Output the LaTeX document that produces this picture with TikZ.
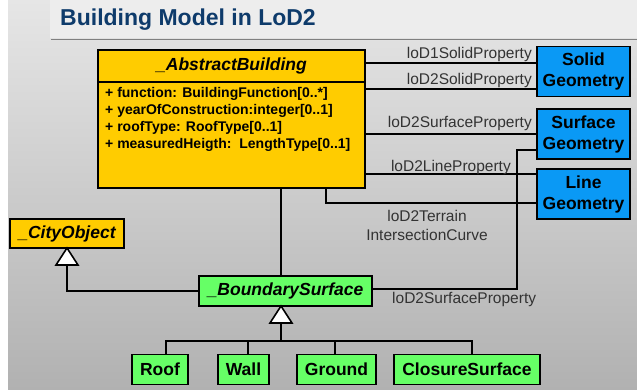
\documentclass[tikz,border=0pt]{standalone}
\usepackage{fontspec}
\setmainfont{Liberation Sans}
\usetikzlibrary{arrows.meta,positioning,calc}
\definecolor{bgtop}{HTML}{E6E6E6}
\definecolor{bgbot}{HTML}{B1B1B1}
\definecolor{panel}{HTML}{EDEDED}
\definecolor{titleblue}{HTML}{0E3B6B}
\definecolor{abstr}{HTML}{FFCC00}
\definecolor{geom}{HTML}{0A99F5}
\definecolor{surf}{HTML}{66FF66}
\definecolor{lbltext}{HTML}{333333}
\tikzset{
  cls/.style={draw=black,line width=1.8pt,outer sep=0pt,inner sep=3pt,align=center,
    font=\fontsize{17.5}{21}\selectfont\bfseries},
  abscls/.style={cls,fill=abstr,font=\fontsize{17.5}{21}\selectfont\bfseries\itshape},
  geocls/.style={cls,fill=geom,minimum width=93pt,minimum height=50pt},
  surfcls/.style={cls,fill=surf,minimum height=30pt},
  assoc/.style={draw=black,line width=1.5pt},
  gentri/.style={draw=black,fill=white,line width=1.6pt,line join=miter},
  lbl/.style={inner sep=0pt,text=lbltext,font=\fontsize{15.5}{19}\selectfont,align=center},
  attrtext/.style={inner sep=0pt,align=left,font=\fontsize{14}{17}\selectfont\bfseries}
}

\begin{document}
\begin{tikzpicture}[x=1pt,y=-1pt]
\useasboundingbox (0,0) rectangle (637,390);
\fill[white] (0,0) rectangle (637,390);
\shade[top color=bgtop,bottom color=bgbot] (8,0) rectangle (637,390);
\fill[panel] (50,0) rectangle (637,38);
\draw[gray,line width=1pt] (51,40) -- (637,40);
\node[anchor=base west,inner sep=0pt,text=titleblue,font=\fontsize{23}{27}\selectfont\bfseries]
  (title) at (60,26) {Building Model in LoD2};

% classes
\node[abscls,minimum width=267pt,minimum height=32pt] (abHead) at (231.5,66) {\_AbstractBuilding};
\node[abscls,minimum width=267pt,minimum height=106pt,below=0pt of abHead] (abBody) {};
\node[attrtext,anchor=north west] (abList) at (105,87.5)
  {+ function: BuildingFunction[0..*]\\
   + yearOfConstruction:integer[0..1]\\
   + roofType: RoofType[0..1]\\
   + measuredHeigth:\ \ LengthType[0..1]};
\node[geocls] (solid) at (583.5,71.5) {Solid\\Geometry};
\node[geocls] (surface) at (583.5,134) {Surface\\Geometry};
\node[geocls] (line) at (583.5,194) {Line\\Geometry};
\node[abscls,minimum width=114pt,minimum height=29pt] (cobj) at (67,233.5) {\_CityObject};
\node[surfcls,minimum width=173pt,font=\fontsize{17.5}{21}\selectfont\bfseries\itshape]
  (bsurf) at (285.5,291) {\_BoundarySurface};
\node[surfcls,minimum width=56pt] (roof) at (160,369.5) {Roof};
\node[surfcls,minimum width=51pt] (wall) at (243.5,369.5) {Wall};
\node[surfcls,minimum width=79pt] (ground) at (336.5,369.5) {Ground};
\node[surfcls,minimum width=146pt] (closure) at (467,369.5) {ClosureSurface};
\coordinate (jn) at (281,341);

% associations
\draw[assoc] (abHead.east |- 0,63) -- (solid.west |- 0,63);
\draw[assoc] (abBody.east |- 0,89) -- (solid.west |- 0,89);
\draw[assoc] (abBody.east |- surface.west) -- (surface.west);
\draw[assoc] (abBody.east |- 0,174) -- (line.west |- 0,174);
\draw[assoc] (abBody.south -| 326,0) |- (line.west |- 0,203);
\draw[assoc] (surface.west |- 0,150) -| (517,289) -- (bsurf.east |- 0,289);
\draw[assoc] (abBody.south -| jn) -- (bsurf.north -| jn);
\node[lbl,anchor=base east] (lbSolid1) at (532,58.5) {loD1SolidProperty};
\node[lbl,anchor=base east] (lbSolid2) at (532,84.5) {loD2SolidProperty};
\node[lbl,anchor=base east] (lbSurf) at (532,127.5) {loD2SurfaceProperty};
\node[lbl,anchor=base east] (lbLine) at (511,172) {loD2LineProperty};
\node[lbl,anchor=north] (lbTerrain) at (427,210.5) {loD2Terrain\\IntersectionCurve};
\node[lbl,anchor=base west] (lbBsurf) at (392,303.5) {loD2SurfaceProperty};

% generalizations
\coordinate (cobjTip) at (cobj.south);
\coordinate (bsurfTip) at (bsurf.south -| jn);
\draw[assoc] (bsurf.west) -| ($(cobjTip)+(0,17)$);
\foreach \c/\dx in {roof/6,wall/4.5,ground/-1.5,closure/5}
  \draw[assoc] ([xshift=\dx pt]\c.north) |- (jn);
\draw[assoc] (jn) -- ($(bsurfTip)+(0,17)$);
\foreach \t in {cobjTip,bsurfTip}
  \draw[gentri] (\t) -- ++(-11,17) -- ++(22,0) -- cycle;
\end{tikzpicture}
\end{document}
